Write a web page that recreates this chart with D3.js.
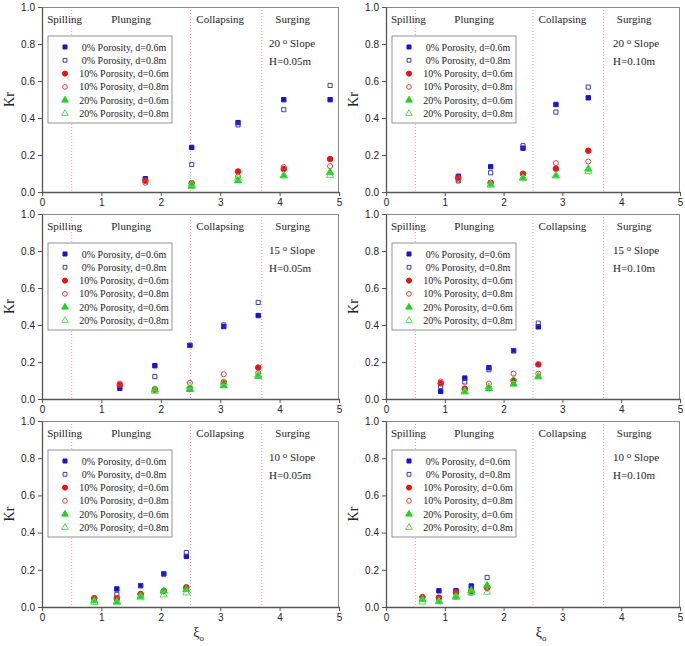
<!DOCTYPE html>
<html><head><meta charset="utf-8">
<script src="https://cdn.jsdelivr.net/npm/d3@7"></script>
<style>body{margin:0;background:#fff}svg{display:block}</style>
</head><body>
<svg id="c" width="685" height="646"></svg>
<script>
// ---- data ----
const seriesNames = ["0% Porosity, d=0.6m","0% Porosity, d=0.8m","10% Porosity, d=0.6m","10% Porosity, d=0.8m","20% Porosity, d=0.6m","20% Porosity, d=0.8m"];
const regionNames = ["Spilling","Plunging","Collapsing","Surging"];
const regionCenters = [0.38, 1.5, 3.0, 4.22];
const regionBounds = [0.5, 2.5, 3.7];
const xTicks = [0,1,2,3,4,5];
const yTicks = [0,0.2,0.4,0.6,0.8,1.0];
const slopes = ["20","20","15","15","10","10"];
const heights = ["H=0.05m","H=0.10m","H=0.05m","H=0.10m","H=0.05m","H=0.10m"];

const p1_xi = [1.74, 2.52, 3.30, 4.07, 4.85];
const p1_kr = [
  [0.072, 0.241, 0.375, 0.499, 0.499],
  [0.068, 0.149, 0.363, 0.445, 0.576],
  [0.061, 0.048, 0.111, 0.124, 0.178],
  [0.050, 0.048, 0.084, 0.135, 0.140],
  [null, 0.032, 0.061, 0.088, 0.106],
  [null, 0.043, 0.075, 0.088, 0.090]];
const p2_xi = [1.23, 1.78, 2.33, 2.89, 3.44];
const p2_kr = [
  [0.085, 0.137, 0.237, 0.473, 0.509],
  [0.060, 0.104, 0.250, 0.432, 0.567],
  [0.077, 0.050, 0.099, 0.126, 0.223],
  [0.068, 0.050, 0.097, 0.156, 0.165],
  [null, 0.038, 0.077, 0.088, 0.124],
  [null, 0.041, 0.074, 0.088, 0.110]];
const p3_xi = [1.31, 1.90, 2.49, 3.06, 3.64];
const p3_kr = [
  [0.058, 0.180, 0.290, 0.392, 0.451],
  [null, 0.121, 0.290, 0.400, 0.522],
  [0.076, 0.052, 0.054, 0.090, 0.170],
  [0.084, 0.048, 0.087, 0.134, 0.141],
  [null, 0.050, 0.052, 0.072, 0.123],
  [null, 0.042, 0.069, 0.087, 0.130]];
const p4_xi = [0.93, 1.34, 1.75, 2.17, 2.59];
const p4_kr = [
  [0.041, 0.113, 0.169, 0.261, 0.390],
  [0.067, 0.092, 0.158, 0.261, 0.410],
  [0.085, 0.056, 0.059, 0.100, 0.187],
  [0.095, 0.050, 0.083, 0.137, 0.137],
  [null, 0.041, 0.056, 0.081, 0.122],
  [null, 0.038, 0.065, 0.106, 0.119]];
const p5_xi = [0.88, 1.26, 1.66, 2.05, 2.43];
const p5_kr = [
  [null, 0.097, 0.115, 0.178, 0.272],
  [null, 0.068, 0.115, 0.178, 0.293],
  [0.047, 0.047, 0.070, 0.086, 0.104],
  [0.049, 0.040, 0.065, 0.088, 0.108],
  [0.034, 0.029, 0.058, 0.086, 0.094],
  [0.025, 0.023, 0.050, 0.065, 0.076]];
const p6_xi = [0.62, 0.90, 1.19, 1.45, 1.72];
const p6_kr = [
  [null, 0.087, 0.088, 0.113, null],
  [null, 0.051, 0.085, 0.101, 0.159],
  [0.053, 0.050, 0.078, 0.085, 0.104],
  [0.053, 0.044, 0.073, 0.076, 0.099],
  [0.041, 0.030, 0.057, 0.088, 0.115],
  [0.027, 0.028, 0.051, 0.076, 0.080]];

const panelsXi = [p1_xi,p2_xi,p3_xi,p4_xi,p5_xi,p6_xi];
const panelsKr = [p1_kr,p2_kr,p3_kr,p4_kr,p5_kr,p6_kr];

// ---- styles ----
const styles = [
  {sym:d3.symbolSquare, size:19, fill:"#1414d2", stroke:"#1414d2"},
  {sym:d3.symbolSquare, size:17, fill:"none", stroke:"#3a3ab8"},
  {sym:d3.symbolCircle, size:24, fill:"#e81414", stroke:"#e81414"},
  {sym:d3.symbolCircle, size:20, fill:"none", stroke:"#dc3c3c"},
  {sym:d3.symbolTriangle, size:22, fill:"#22d022", stroke:"#22d022"},
  {sym:d3.symbolTriangle, size:22, fill:"none", stroke:"#55dd55"}];

const svg = d3.select("#c");
const colX = [[42,339],[386,680]];
const rowY = [[7,192],[214,399],[421,607]];
const serif = "'Liberation Serif','Times New Roman',serif";
const sans = "'Liberation Sans',Arial,sans-serif";

for (let p = 0; p < 6; p++) {
  const cx = colX[p % 2], ry = rowY[Math.floor(p / 2)];
  const x = d3.scaleLinear().domain([0,5]).range(cx);
  const y = d3.scaleLinear().domain([0,1]).range([ry[1], ry[0]]);
  const g = svg.append("g");

  // region boundaries
  g.selectAll(".rb").data(regionBounds).join("line")
    .attr("x1", d => x(d)).attr("x2", d => x(d))
    .attr("y1", ry[0]).attr("y2", ry[1])
    .attr("stroke", "#e58fb5").attr("stroke-width", 0.9).attr("stroke-dasharray", "1,2");

  // frame
  g.append("line").attr("x1", cx[0]).attr("x2", cx[1]).attr("y1", ry[0]+0.5).attr("y2", ry[0]+0.5).attr("stroke", "#8a8a8a");
  g.append("line").attr("x1", cx[1]-0.5).attr("x2", cx[1]-0.5).attr("y1", ry[0]).attr("y2", ry[1]).attr("stroke", "#8a8a8a");

  // axes
  const xa = g.append("g").attr("transform", `translate(0,${ry[1]})`)
    .call(d3.axisBottom(x).tickValues(xTicks).tickFormat(d3.format("d")).tickSize(4).tickSizeOuter(0));
  const ya = g.append("g").attr("transform", `translate(${cx[0]},0)`)
    .call(d3.axisLeft(y).tickValues(yTicks).tickFormat(d3.format(".1f")).tickSize(4).tickSizeOuter(0));
  [xa, ya].forEach(a => {
    a.select(".domain").attr("stroke", "#555").attr("stroke-width", 1.3);
    a.selectAll(".tick line").attr("stroke", "#555");
    a.selectAll("text").attr("font-family", sans).attr("font-size", 10).attr("fill", "#222");
  });
  xa.selectAll("text").attr("dy", "0.75em").attr("y", 6);

  // region labels
  g.selectAll(".rl").data(regionNames).join("text")
    .attr("x", (d, i) => x(regionCenters[i])).attr("y", ry[0] + 16)
    .attr("text-anchor", "middle").attr("font-family", serif).attr("font-size", 11).attr("fill", "#222")
    .text(d => d);

  // slope / height
  const tx = cx[0] + 227;
  const st = g.append("text").attr("x", tx).attr("y", ry[0] + 40)
    .attr("font-family", serif).attr("font-size", 11).attr("fill", "#222");
  st.append("tspan").text(slopes[p] + " ");
  st.append("tspan").attr("dy", -3).attr("font-size", 9).text("o");
  st.append("tspan").attr("dy", 3).text(" Slope");
  g.append("text").attr("x", tx).attr("y", ry[0] + 58)
    .attr("font-family", serif).attr("font-size", 11).attr("fill", "#222").text(heights[p]);

  // legend
  const lx = cx[0] + 6, ly = ry[0] + 29;
  g.append("rect").attr("x", lx).attr("y", ly).attr("width", 124).attr("height", 87)
    .attr("fill", "#fff").attr("stroke", "#888").attr("stroke-width", 0.9);
  seriesNames.forEach((name, i) => {
    const yy = ly + 11 + i * 13.3;
    const s = styles[i];
    g.append("path").attr("d", d3.symbol(s.sym, s.size * 0.85)())
      .attr("transform", `translate(${lx + 17},${yy})`)
      .attr("fill", s.fill).attr("stroke", s.stroke).attr("stroke-width", 1);
    g.append("text").attr("x", lx + 76).attr("y", yy + 3.5).attr("text-anchor", "middle")
      .attr("font-family", serif).attr("font-size", 10).attr("fill", "#222").text(name);
  });

  // data points
  const xs = panelsXi[p];
  panelsKr[p].forEach((vals, si) => {
    const s = styles[si];
    const pts = vals.map((v, j) => ({xv: xs[j], v})).filter(d => d.v !== null);
    g.selectAll(null).data(pts).join("path")
      .attr("d", d3.symbol(s.sym, s.size)())
      .attr("transform", d => `translate(${x(d.xv)},${y(d.v)})`)
      .attr("fill", s.fill).attr("stroke", s.stroke).attr("stroke-width", 1);
  });

  // Kr label
  g.append("text").attr("transform", `translate(${cx[0] - 28},${(ry[0] + ry[1]) / 2}) rotate(-90)`)
    .attr("text-anchor", "middle").attr("font-family", serif).attr("font-size", 14).attr("fill", "#222").text("Kr");

  // xi label on bottom row
  if (p >= 4) {
    const t = g.append("text").attr("x", (cx[0] + cx[1]) / 2 + 8).attr("y", ry[1] + 30)
      .attr("text-anchor", "middle").attr("font-family", serif).attr("font-size", 14).attr("fill", "#222");
    t.append("tspan").text("ξ");
    t.append("tspan").attr("dy", 4).attr("font-size", 9).text("o");
  }
}
</script>
</body></html>
